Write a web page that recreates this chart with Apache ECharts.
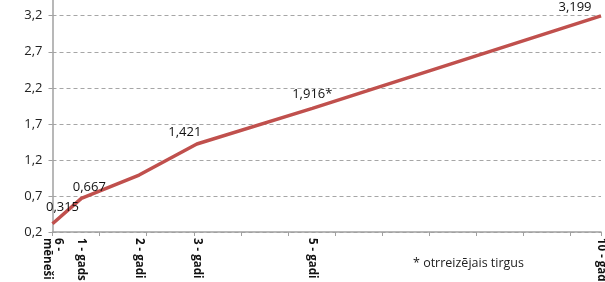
<!DOCTYPE html>
<html>
<head>
<meta charset="utf-8">
<script src="https://cdn.jsdelivr.net/npm/echarts@6/dist/echarts.min.js"></script>
<style>
  html, body { margin: 0; padding: 0; background: #fff; }
</style>
</head>
<body>
<div id="graph" style="width: 605px; height: 282px;"></div>
<script>
// termiņš mēnešos un ienesīgums
let pointMonths = [6, 12, 24, 36, 60, 120]
let pointValues = [0.315, 0.667, 0.99, 1.421, 1.916, 3.199]
let pointLabels = ['0,315', '0,667', '', '1,421', '1,916*', '3,199']
let tickNames = {
  6: '6 -\nmēneši',
  12: '1 - gads',
  24: '2 - gadi',
  36: '3 - gadi',
  60: '5 - gadi',
  120: '10 - gadi'
}
let footnote = '* otrreizējais tirgus'

// mēnešu kategorijas 6..120
let months = []
for (let m = 6; m <= 120; m++) months.push(String(m))

// etiķešu nobīdes
let labelOffsets = {
  6: [10, -5],
  12: [8, 0],
  24: [0, 0],
  36: [-12, 0],
  60: [0, -3],
  120: [-26, 3]
}

let gridW = 605 - 52.5 - 4
let tickStep = 47.1

let graph = echarts.init(document.getElementById('graph'))
graph.setOption({
  backgroundColor: '#fff',
  animation: false,
  textStyle: { fontFamily: 'Open Sans' },
  grid: { left: 52.5, right: 4, top: -20.3, bottom: 50, outerBoundsMode: 'none', containLabel: false },
  title: {
    text: footnote,
    left: 408,
    top: 252,
    textStyle: { fontSize: 12.5, fontWeight: 'normal', color: '#222', fontFamily: 'Open Sans' }
  },
  xAxis: [
    {
      type: 'category',
      data: months,
      boundaryGap: false,
      axisLine: { lineStyle: { color: '#a0a0a0', width: 1.5 } },
      axisTick: { show: false },
      axisLabel: {
        interval: (index, value) => tickNames[value] !== undefined,
        formatter: (value) => tickNames[value],
        rotate: -90,
        fontSize: 11.5,
        fontWeight: 'bold',
        color: '#111',
        lineHeight: 11,
        margin: 6
      },
      splitLine: { show: false }
    },
    {
      type: 'value',
      position: 'bottom',
      min: 0,
      max: gridW / tickStep,
      interval: 1,
      axisLine: { show: false },
      axisTick: { show: true, length: 4, lineStyle: { color: '#a0a0a0', width: 1 } },
      axisLabel: { show: false },
      splitLine: { show: false }
    }
  ],
  yAxis: {
    type: 'value',
    min: 0.2,
    max: 3.7,
    interval: 0.5,
    axisLine: { show: true, lineStyle: { color: '#a0a0a0', width: 1.5 } },
    axisTick: { show: true, length: 4, lineStyle: { color: '#a0a0a0' } },
    axisLabel: {
      formatter: (v) => v.toFixed(1).replace('.', ','),
      fontSize: 13,
      color: '#222',
      margin: 10
    },
    splitLine: { lineStyle: { color: '#a6a6a6', type: [4, 3], width: 1 } }
  },
  series: [
    {
      type: 'line',
      xAxisIndex: 0,
      symbol: 'circle',
      symbolSize: 0,
      showAllSymbol: true,
      lineStyle: { color: '#c0504d', width: 3.5 },
      itemStyle: { color: '#c0504d' },
      data: pointMonths.map((m, i) => ({
        value: [String(m), pointValues[i]],
        label: {
          show: pointLabels[i] !== '',
          position: 'top',
          offset: labelOffsets[m],
          formatter: pointLabels[i],
          fontSize: 13,
          color: '#111'
        }
      }))
    }
  ]
})
</script>
</body>
</html>
